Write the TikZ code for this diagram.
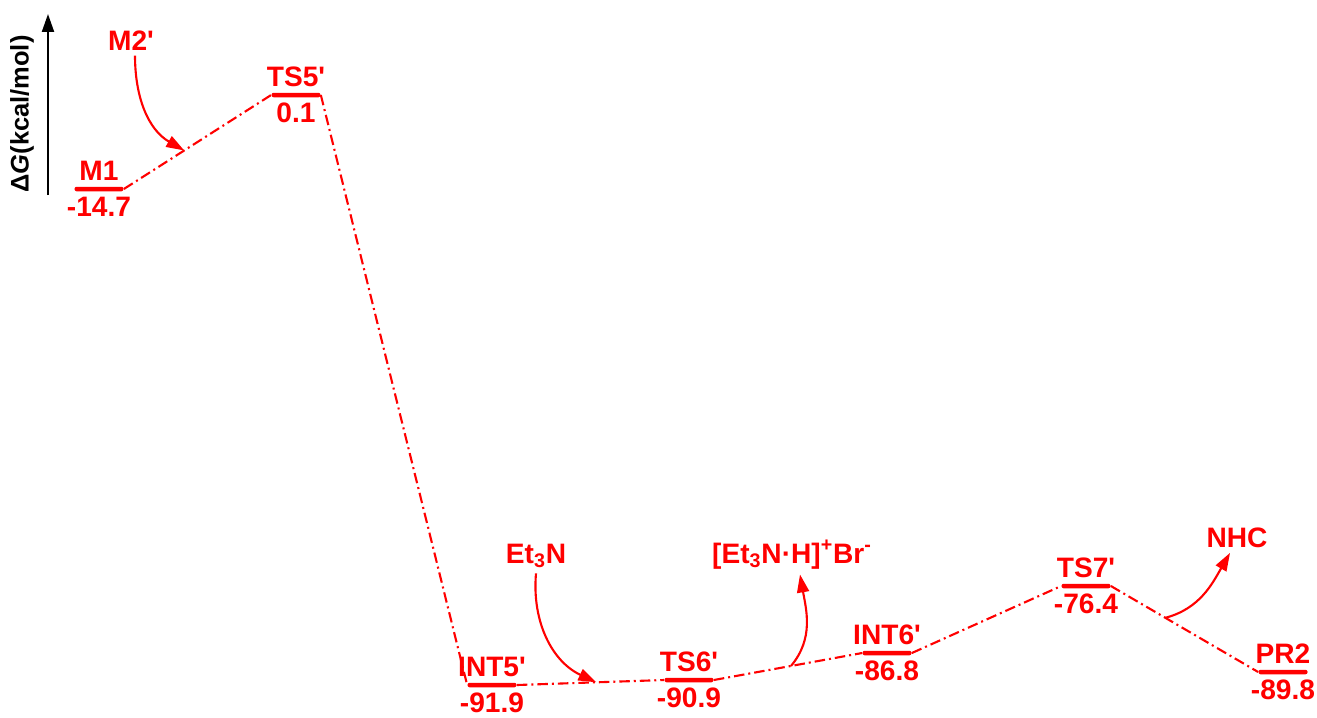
\documentclass[tikz,border=0pt]{standalone}
\usepackage{fontspec}
\setmainfont{Liberation Sans}
\usetikzlibrary{arrows.meta}
\definecolor{pathred}{RGB}{255,0,0}
\newcommand{\pq}{\textquotesingle}
\tikzset{
  level/.style={rectangle, fill=pathred, minimum width=0.98cm, minimum height=0.09cm, inner sep=0pt, rounded corners=0.04cm},
  lab/.style={text=pathred, font=\bfseries\fontsize{16}{19}\selectfont, inner sep=3pt},
  conn/.style={draw=pathred, line width=1.2pt, dash pattern=on 0.21cm off 0.08cm on 0.04cm off 0.08cm},
  swing/.style={draw=pathred, line width=1.2pt, -{Triangle[length=0.36cm,width=0.24cm]}},
}
\begin{document}
\begin{tikzpicture}[x=0.02cm, y=0.02cm]
\useasboundingbox (0,0) rectangle (1317,-717);
% axis
\coordinate (ax0) at (48,-195);
\coordinate (ax1) at (48,-14);
\draw[line width=1.2pt, -{Triangle[length=0.36cm,width=0.24cm]}] (ax0) -- (ax1);
\node[rotate=90, font=\bfseries\fontsize{14.5}{17}\selectfont] (axlab) at (22,-114) {Δ\textit{G}(kcal/mol)};
% levels
\node[level, label={[lab,name=m1t]above:M1}, label={[lab,name=m1v]below:-14.7}] (m1) at (99,-189) {};
\node[level, label={[lab,name=ts5t]above:TS5\pq}, label={[lab,name=ts5v]below:0.1}] (ts5) at (296,-95) {};
\node[level, label={[lab,name=int5t]above:INT5\pq}, label={[lab,name=int5v]below:-91.9}] (int5) at (492,-685) {};
\node[level, label={[lab,name=ts6t]above:TS6\pq}, label={[lab,name=ts6v]below:-90.9}] (ts6) at (689,-680) {};
\node[level, label={[lab,name=int6t]above:INT6\pq}, label={[lab,name=int6v]below:-86.8}] (int6) at (887,-653) {};
\node[level, label={[lab,name=ts7t]above:TS7\pq}, label={[lab,name=ts7v]below:-76.4}] (ts7) at (1086,-586) {};
\node[level, label={[lab,name=pr2t]above:PR2}, label={[lab,name=pr2v]below:-89.8}] (pr2) at (1283,-672) {};
% species in and out
\node[lab, anchor=base] (m2) at (131,-50) {M2\pq};
\node[lab, anchor=base] (et) at (536,-563) {Et\textsubscript{3}N};
\node[lab, anchor=base] (eth) at (792,-563) {[Et\textsubscript{3}N·H]\textsuperscript{+}Br\textsuperscript{-}};
\node[lab, anchor=base] (nhc) at (1237,-547) {NHC};
% connectors
\draw[conn] (m1.east) -- coordinate[pos=0.41] (p1) (ts5.west);
\draw[conn] (ts5.east) -- (int5.west);
\draw[conn] (int5.east) -- coordinate[pos=0.54] (p2) (ts6.west);
\draw[conn] (ts6.east) -- coordinate[pos=0.52] (p3) (int6.west);
\draw[conn] (int6.east) -- (ts7.west);
\draw[conn] (ts7.east) -- coordinate[pos=0.37] (p4) (pr2.west);
\draw[swing] ([xshift=0.08cm]m2.south) to[out=-90, in=150] (p1);
\draw[swing] (et.south) to[out=-95, in=155] (p2);
\draw[swing] (p3) to[out=50, in=-80] ([xshift=0.16cm]eth.south);
\draw[swing] (p4) to[out=15, in=-120] ([xshift=-0.14cm]nhc.south);
\end{tikzpicture}
\end{document}
